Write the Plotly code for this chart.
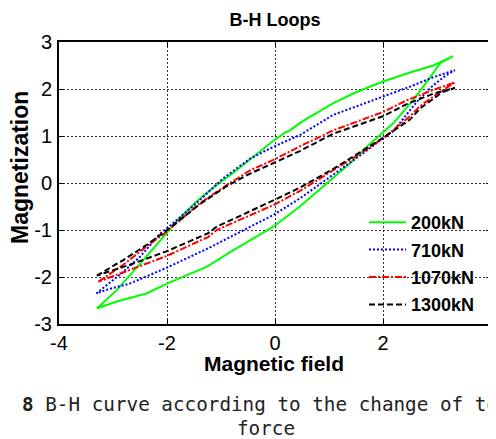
import plotly.graph_objects as go

# ---------------- data ----------------
# Each loop: "up" branch from the negative tip to the positive tip,
# "down" branch from the positive tip back to the negative tip.
H_200_up = [-3.30, -2.93, -2.50, -2.13, -1.76, -1.39, -1.08, -0.77, -0.40, -0.03, 0.20, 0.28, 0.46, 0.83, 1.08, 1.50, 2.00, 2.50, 2.93, 3.30]
M_200_up = [-2.67, -2.28, -1.72, -1.22, -0.74, -0.33, -0.04, 0.22, 0.56, 0.90, 1.08, 1.12, 1.28, 1.52, 1.70, 1.93, 2.16, 2.35, 2.50, 2.70]
H_200_dn = [3.30, 3.06, 2.81, 2.56, 2.19, 1.70, 1.39, 1.08, 0.65, 0.46, -0.03, -0.77, -1.26, -2.00, -2.38, -2.93, -3.30]
M_200_dn = [2.70, 2.55, 2.15, 1.77, 1.27, 0.77, 0.42, 0.11, -0.32, -0.50, -0.93, -1.43, -1.78, -2.14, -2.35, -2.52, -2.67]

H_710_up = [-3.31, -2.87, -2.50, -2.13, -1.82, -1.39, -0.96, -0.46, -0.03, 0.46, 1.08, 2.00, 2.50, 2.93, 3.33]
M_710_up = [-2.35, -1.95, -1.57, -1.08, -0.79, -0.36, 0.10, 0.52, 0.77, 1.02, 1.45, 1.83, 2.05, 2.25, 2.40]
H_710_dn = [3.33, 3.18, 2.93, 2.62, 2.19, 2.00, 1.57, 1.08, 0.46, -0.03, -0.46, -1.24, -2.00, -2.69, -3.06, -3.31]
M_710_dn = [2.40, 2.30, 2.08, 1.72, 1.10, 0.95, 0.58, 0.18, -0.33, -0.68, -0.93, -1.39, -1.80, -2.14, -2.25, -2.35]

H_1070_up = [-3.27, -2.81, -2.38, -2.00, -1.39, -0.90, -0.46, -0.03, 0.46, 1.08, 2.00, 2.44, 2.93, 3.33]
M_1070_up = [-2.10, -1.74, -1.35, -1.03, -0.43, -0.05, 0.27, 0.49, 0.78, 1.12, 1.51, 1.76, 1.98, 2.14]
H_1070_dn = [3.33, 3.06, 2.69, 2.50, 2.00, 1.57, 1.08, 0.46, -0.03, -1.08, -1.24, -2.00, -2.69, -3.27]
M_1070_dn = [2.14, 1.94, 1.64, 1.42, 0.95, 0.62, 0.27, -0.17, -0.47, -1.00, -1.15, -1.55, -1.85, -2.10]

H_1300_up = [-3.30, -2.81, -2.38, -2.00, -1.39, -0.90, -0.46, -0.03, 0.46, 1.08, 2.00, 2.44, 2.93, 3.33]
M_1300_up = [-1.97, -1.64, -1.32, -1.00, -0.45, -0.07, 0.20, 0.42, 0.68, 1.05, 1.42, 1.68, 1.90, 2.02]
H_1300_dn = [3.33, 3.11, 2.69, 2.50, 2.00, 1.57, 1.08, 0.46, -0.03, -1.08, -1.24, -2.00, -2.69, -3.30]
M_1300_dn = [2.02, 1.94, 1.59, 1.35, 0.96, 0.66, 0.30, -0.10, -0.37, -0.93, -1.07, -1.45, -1.74, -1.97]

series_names = ["200kN", "710kN", "1070kN", "1300kN"]
x_ticks = [-4, -2, 0, 2, 4]
x_tick_labels = ["-4", "-2", "0", "2", "4"]
y_ticks = [-3, -2, -1, 0, 1, 2, 3]
y_tick_labels = ["-3", "-2", "-1", "0", "1", "2", "3"]

loops = [
    (H_200_up + H_200_dn, M_200_up + M_200_dn),
    (H_710_up + H_710_dn, M_710_up + M_710_dn),
    (H_1070_up + H_1070_dn, M_1070_up + M_1070_dn),
    (H_1300_up + H_1300_dn, M_1300_up + M_1300_dn),
]
colors = ["#00FF00", "#0000FF", "#FF0000", "#000000"]
dashes = ["solid", "2px,2px", "7px,2px,2px,2px", "6px,3px"]

# ---------------- layout geometry (page pixels) ----------------
# the page body has an 8px default margin, so the figure is offset by 8px
OFF = 8
PAGE_W, PAGE_H = 496, 439
W, H = PAGE_W - OFF, PAGE_H - OFF
PL, PR, PT, PB = 59, 491, 42, 324          # plot area in page pixels
L, T = PL - OFF, PT - OFF
R, B = W - (PR - OFF), H - (PB - OFF)
pw, ph = PR - PL, PB - PT

def px2paper_x(px):          # page px -> paper fraction
    return (px - PL) / pw

def px2paper_y(py):
    return (PB - py) / ph

fig = go.Figure()
for (hx, my), name, c, d in zip(loops, series_names, colors, dashes):
    fig.add_trace(go.Scatter(x=hx, y=my, mode="lines", name=name,
                             legendgroup=name,
                             line=dict(color=c, width=2, dash=d)))

font_main = "Liberation Sans, Arial, sans-serif"

axis_common = dict(
    showline=True, linecolor="black", linewidth=2, mirror="allticks",
    ticks="inside", ticklen=5, tickcolor="black", tickwidth=1,
    showgrid=True, gridcolor="#333333", gridwidth=1, griddash="2px,2px",
    zeroline=False, automargin=False,
    tickfont=dict(family=font_main, size=20, color="black"),
)

fig.update_layout(
    width=W, height=H,
    margin=dict(l=L, r=R, t=T, b=B, autoexpand=False),
    paper_bgcolor="white", plot_bgcolor="white",
    title=dict(text="<b>B-H Loops</b>", x=px2paper_x(275), xref="paper", xanchor="center",
               y=1 - (20 - OFF) / H, yref="container", yanchor="middle",
               font=dict(family=font_main, size=18, color="black")),
    xaxis=dict(range=[-4, 4], tickvals=x_ticks, ticktext=x_tick_labels, **axis_common),
    yaxis=dict(range=[-3, 3], tickvals=y_ticks, ticktext=y_tick_labels,
               ticklabelstandoff=1, **axis_common),
    legend=dict(x=px2paper_x(364), y=px2paper_y(204), xanchor="left", yanchor="top",
                bgcolor="rgba(0,0,0,0)", borderwidth=0, tracegroupgap=1,
                itemwidth=37,
                font=dict(family=font_main, size=18, color="black", weight="bold")),
    showlegend=True,
)

fig.add_annotation(text="<b>Magnetic field</b>", xref="paper", yref="paper",
                   x=px2paper_x(274), y=px2paper_y(363), xanchor="center", yanchor="middle",
                   showarrow=False, font=dict(family=font_main, size=21, color="black"))
fig.add_annotation(text="<b>Magnetization</b>", xref="paper", yref="paper",
                   x=px2paper_x(20), y=px2paper_y(168), xanchor="center", yanchor="middle",
                   textangle=-90, showarrow=False,
                   font=dict(family=font_main, size=23, color="black"))
# caption (first line runs past both page edges, as in the reference)
fig.add_annotation(text="<b>Fig. 8</b> B-H curve according to the change of tensile",
                   xref="paper", yref="paper",
                   x=px2paper_x(-38), y=px2paper_y(404), xanchor="left", yanchor="middle",
                   showarrow=False, align="left",
                   font=dict(family="DejaVu Sans Mono, monospace", size=19.3, color="#222222"))
fig.add_annotation(text="force",
                   xref="paper", yref="paper",
                   x=px2paper_x(266), y=px2paper_y(428), xanchor="center", yanchor="middle",
                   showarrow=False, align="center",
                   font=dict(family="DejaVu Sans Mono, monospace", size=19.3, color="#222222"))

fig.write_html("out.html")
